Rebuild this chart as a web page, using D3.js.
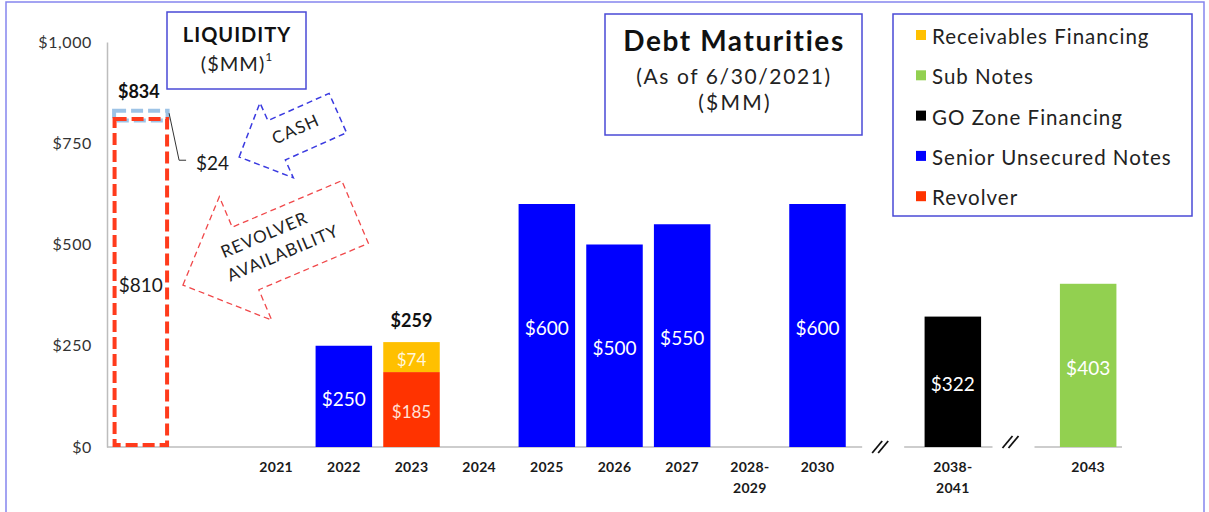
<!DOCTYPE html>
<html>
<head>
<meta charset="utf-8">
<script src="https://cdn.jsdelivr.net/npm/d3@7"></script>
<style>
  html, body { margin: 0; padding: 0; background: #fff; }
  svg { display: block; font-family: Lato, "Open Sans", "DejaVu Sans", sans-serif; }
</style>
</head>
<body>
<svg id="chart" width="1209" height="512"></svg>
<script>
// Slots along the x axis: liquidity column, a spacer, the maturity years, and two axis breaks
const slots = ["Liquidity", "spacer", "2021", "2022", "2023", "2024", "2025", "2026", "2027",
               "2028-2029", "2030", "break-1", "2038-2041", "break-2", "2043"];

// Maturity years and amounts per debt type ($MM)
const years        = ["2021", "2022", "2023", "2024", "2025", "2026", "2027", "2028-2029", "2030", "2038-2041", "2043"];
const revolver     = [0, 0, 185, 0, 0, 0, 0, 0, 0, 0, 0];
const seniorNotes  = [0, 250, 0, 0, 600, 500, 550, 0, 600, 0, 0];
const goZone       = [0, 0, 0, 0, 0, 0, 0, 0, 0, 322, 0];
const subNotes     = [0, 0, 0, 0, 0, 0, 0, 0, 0, 0, 403];
const receivables  = [0, 0, 74, 0, 0, 0, 0, 0, 0, 0, 0];

// Liquidity column
const liquidityRevolver = 810;
const liquidityCash = 24;

// Y ticks
const yTicks = [0, 250, 500, 750, 1000];

// Legend order (top to bottom) and colours
const legendNames  = ["Receivables Financing", "Sub Notes", "GO Zone Financing", "Senior Unsecured Notes", "Revolver"];
const legendKeys   = ["receivables", "subNotes", "goZone", "seniorNotes", "revolver"];
const seriesColors = { receivables: "#ffc000", subNotes: "#92d050", goZone: "#000000", seniorNotes: "#0000ff", revolver: "#ff3300" };

// Stack order, bottom to top
const stackKeys = ["revolver", "seniorNotes", "goZone", "subNotes", "receivables"];

const rows = years.map((yr, i) => ({
  year: yr,
  revolver: revolver[i],
  seniorNotes: seniorNotes[i],
  goZone: goZone[i],
  subNotes: subNotes[i],
  receivables: receivables[i]
}));

const svg = d3.select("#chart");
const textDark = "#1a1a1a";
const boxBlue = "#4a4ad6";

const x = d3.scaleBand().domain(slots).range([107, 1122]).paddingInner(0.165).paddingOuter(0.0825);
const y = d3.scaleLinear().domain([0, 1000]).range([447, 42]);
const cx = k => x(k) + x.bandwidth() / 2;

// Outer frame
svg.append("rect").attr("x", 6).attr("y", 2).attr("width", 1198).attr("height", 530)
  .attr("fill", "none").attr("stroke", "#8585ee").attr("stroke-width", 1.5);

// Y axis
const yAxis = svg.append("g").attr("transform", `translate(${x.range()[0]},0)`)
  .call(d3.axisLeft(y).tickValues(yTicks).tickSize(0).tickPadding(15)
    .tickFormat(d => "$" + d3.format(",")(d)));
yAxis.select(".domain").attr("stroke", "#bdbdbd").attr("stroke-width", 1.5);
yAxis.selectAll("text").attr("font-size", 16).attr("fill", "#333")
  .attr("letter-spacing", 0.6).attr("font-family", "Lato, sans-serif");

// Baseline, interrupted at the two breaks
const breaks = [{ key: "break-1", shift: -2, dy: 0 }, { key: "break-2", shift: -7, dy: -5 }];
const gapHalf = 21;
const segs = [];
let start = x.range()[0];
breaks.forEach(b => {
  const c = cx(b.key) + b.shift;
  segs.push([start, c - gapHalf]);
  start = c + gapHalf;
});
segs.push([start, x.range()[1]]);
svg.append("g").selectAll("line").data(segs).join("line")
  .attr("x1", d => d[0]).attr("x2", d => d[1])
  .attr("y1", y(0)).attr("y2", y(0))
  .attr("stroke", "#bdbdbd").attr("stroke-width", 1.5);

// Break marks "//"
breaks.forEach(b => {
  const c = cx(b.key) + b.shift - 3;
  const cy = y(0) + b.dy;
  [-3, 3].forEach(off => {
    svg.append("line")
      .attr("x1", c + off - 5).attr("y1", cy + 6)
      .attr("x2", c + off + 5).attr("y2", cy - 6)
      .attr("stroke", "#111").attr("stroke-width", 1.8);
  });
});

// Stacked maturity bars
const stacked = d3.stack().keys(stackKeys)(rows);
const barG = svg.append("g");
stacked.forEach(layer => {
  barG.selectAll(null).data(layer.filter(d => d[1] - d[0] > 0)).join("rect")
    .attr("x", d => x(d.data.year))
    .attr("width", x.bandwidth())
    .attr("y", d => y(d[1]))
    .attr("height", d => y(d[0]) - y(d[1]))
    .attr("fill", seriesColors[layer.key]);
  barG.selectAll(null).data(layer.filter(d => d[1] - d[0] > 0)).join("text")
    .attr("x", d => cx(d.data.year))
    .attr("y", d => (y(d[0]) + y(d[1])) / 2 + 2)
    .attr("text-anchor", "middle").attr("dominant-baseline", "central")
    .attr("font-size", layer.key === "revolver" || layer.key === "receivables" ? 17 : 19)
    .attr("fill", layer.key === "revolver" ? "#ffe0d6" : (layer.key === "receivables" ? "#fff6dc" : "#ffffff"))
    .text(d => "$" + (d[1] - d[0]));
});

// Total label above stacked 2023 bar
rows.forEach(r => {
  const parts = stackKeys.filter(k => r[k] > 0);
  if (parts.length > 1) {
    const total = d3.sum(stackKeys, k => r[k]);
    svg.append("text").attr("x", cx(r.year)).attr("y", y(total) - 22)
      .attr("text-anchor", "middle").attr("dominant-baseline", "central")
      .attr("font-size", 18).attr("font-weight", "bold").attr("fill", "#111")
      .text("$" + total);
  }
});

// Year labels
svg.append("g").selectAll("text").data(years).join("text")
  .attr("x", d => cx(d)).attr("y", 472)
  .attr("text-anchor", "middle")
  .attr("font-size", 14).attr("font-weight", "bold").attr("fill", textDark)
  .attr("letter-spacing", 0.3)
  .each(function (d) {
    const parts = d.includes("-") ? [d.split("-")[0] + "-", d.split("-")[1]] : [d];
    d3.select(this).selectAll("tspan").data(parts).join("tspan")
      .attr("x", cx(d)).attr("dy", (p, i) => i === 0 ? 0 : 21).text(p => p);
  });

// Liquidity column: revolver availability plus cash on top
const lx = x("Liquidity"), lw = x.bandwidth();
svg.append("rect")
  .attr("x", lx + 1.5).attr("y", y(liquidityRevolver + liquidityCash) + 1.5)
  .attr("width", lw - 3).attr("height", y(liquidityRevolver) - y(liquidityRevolver + liquidityCash))
  .attr("fill", "none").attr("stroke", "#9dc3e6").attr("stroke-width", 4)
  .attr("stroke-dasharray", "12,5");
svg.append("rect")
  .attr("x", lx + 2).attr("y", y(liquidityRevolver))
  .attr("width", lw - 4).attr("height", y(0) - y(liquidityRevolver) - 2)
  .attr("fill", "none").attr("stroke", "#ff3b1c").attr("stroke-width", 4)
  .attr("stroke-dasharray", "12,5");

svg.append("text").attr("x", cx("Liquidity") - 2).attr("y", y(liquidityRevolver + liquidityCash) - 18)
  .attr("text-anchor", "middle").attr("dominant-baseline", "central")
  .attr("font-size", 18).attr("font-weight", "bold").attr("fill", "#111")
  .text("$" + (liquidityRevolver + liquidityCash));
svg.append("text").attr("x", cx("Liquidity")).attr("y", (y(0) + y(liquidityRevolver)) / 2 + 2)
  .attr("text-anchor", "middle").attr("dominant-baseline", "central")
  .attr("font-size", 19).attr("fill", textDark)
  .text("$" + liquidityRevolver);

// Cash leader line and label
const cornerX = lx + lw, cornerY = y(liquidityRevolver + liquidityCash) + 4;
svg.append("polyline")
  .attr("points", `${cornerX},${cornerY} ${cornerX + 10},${cornerY + 47} ${cornerX + 17},${cornerY + 47}`)
  .attr("fill", "none").attr("stroke", "#333").attr("stroke-width", 1);
svg.append("text").attr("x", cornerX + 27).attr("y", cornerY + 49)
  .attr("dominant-baseline", "central")
  .attr("font-size", 19).attr("fill", textDark).text("$" + liquidityCash);

// Block arrow outline pointing left, centred at origin
function arrowPath(L, hl, hw, sw) {
  const t = -L / 2, b = -L / 2 + hl, e = L / 2;
  return `M${t},0 L${b},${-hw} L${b},${-sw} L${e},${-sw} L${e},${sw} L${b},${sw} L${b},${hw} Z`;
}

// CASH arrow
const cashG = svg.append("g").attr("transform", "translate(288.5,135) rotate(-24)");
cashG.append("path").attr("d", arrowPath(108, 41, 41, 21.5))
  .attr("fill", "none").attr("stroke", "#3a3ae0").attr("stroke-width", 1.5)
  .attr("stroke-dasharray", "6,4");
cashG.append("text").attr("x", 9).attr("y", -3).attr("text-anchor", "middle")
  .attr("dominant-baseline", "central").attr("font-size", 17).attr("fill", "#222")
  .attr("letter-spacing", 1.2).text("CASH");

// Revolver availability arrow
const revG = svg.append("g").attr("transform", "translate(269,248.5) rotate(-23)");
revG.append("path").attr("d", arrowPath(187, 68, 67, 34))
  .attr("fill", "none").attr("stroke", "#f0484a").attr("stroke-width", 1.3)
  .attr("stroke-dasharray", "6,4");
revG.append("text").attr("x", 1).attr("y", -15).attr("text-anchor", "middle")
  .attr("dominant-baseline", "central").attr("font-size", 17).attr("fill", "#222")
  .attr("letter-spacing", 1).text("REVOLVER");
revG.append("text").attr("x", 11).attr("y", 9).attr("text-anchor", "middle")
  .attr("dominant-baseline", "central").attr("font-size", 17).attr("fill", "#222")
  .attr("letter-spacing", 1).text("AVAILABILITY");

// LIQUIDITY title box
svg.append("rect").attr("x", 167).attr("y", 12).attr("width", 139).attr("height", 77)
  .attr("fill", "#fff").attr("stroke", boxBlue).attr("stroke-width", 1.5);
svg.append("text").attr("x", 237).attr("y", 34).attr("text-anchor", "middle")
  .attr("dominant-baseline", "central").attr("font-size", 20).attr("font-weight", "bold")
  .attr("letter-spacing", 1).attr("fill", "#111").text("LIQUIDITY");
const liqSub = svg.append("text").attr("x", 237).attr("y", 63).attr("text-anchor", "middle")
  .attr("dominant-baseline", "central").attr("font-size", 20).attr("fill", "#222")
  .attr("letter-spacing", 1);
liqSub.append("tspan").text("($MM)");
liqSub.append("tspan").attr("font-size", 12).attr("dy", -7).text("1");

// Debt Maturities title box
svg.append("rect").attr("x", 605).attr("y", 14).attr("width", 257).attr("height", 121)
  .attr("fill", "#fff").attr("stroke", boxBlue).attr("stroke-width", 1.5);
svg.append("text").attr("x", 734).attr("y", 40).attr("text-anchor", "middle")
  .attr("dominant-baseline", "central").attr("font-size", 28).attr("font-weight", "bold")
  .attr("letter-spacing", 1.6).attr("fill", "#111").text("Debt Maturities");
svg.append("text").attr("x", 734).attr("y", 75).attr("text-anchor", "middle")
  .attr("dominant-baseline", "central").attr("font-size", 21).attr("fill", "#222")
  .attr("letter-spacing", 1.6).text("(As of 6/30/2021)");
svg.append("text").attr("x", 735).attr("y", 101).attr("text-anchor", "middle")
  .attr("dominant-baseline", "central").attr("font-size", 21).attr("fill", "#222")
  .attr("letter-spacing", 2.2).text("($MM)");

// Legend
svg.append("rect").attr("x", 893).attr("y", 14).attr("width", 299).attr("height", 202)
  .attr("fill", "#fff").attr("stroke", boxBlue).attr("stroke-width", 1.5);
const lg = svg.append("g").selectAll("g").data(legendKeys).join("g")
  .attr("transform", (d, i) => `translate(916,${35 + i * 40.3})`);
lg.append("rect").attr("x", 0).attr("y", -5).attr("width", 10).attr("height", 10)
  .attr("fill", d => seriesColors[d]);
lg.append("text").attr("x", 16).attr("y", 1).attr("dominant-baseline", "central")
  .attr("font-size", 20.5).attr("letter-spacing", 1).attr("fill", "#222")
  .text((d, i) => legendNames[i]);
</script>
</body>
</html>
